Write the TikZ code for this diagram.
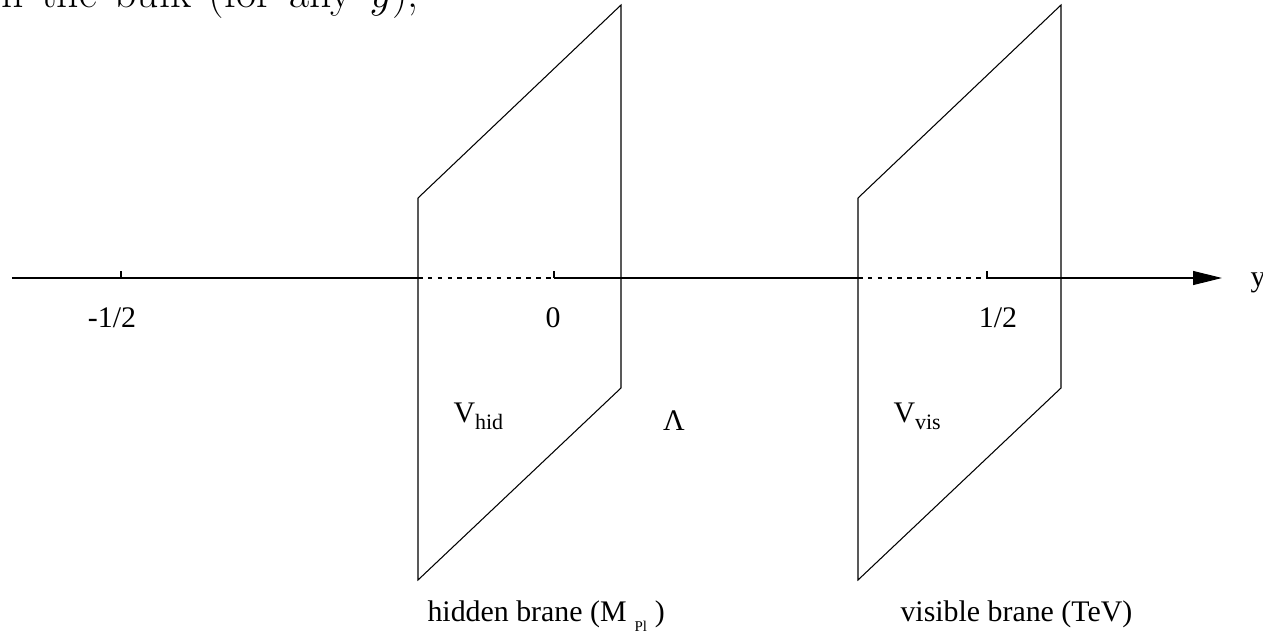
\documentclass[tikz,border=0pt]{standalone}
\usepackage{fontspec}
\newfontfamily\tnr{Liberation Serif}
\usetikzlibrary{arrows.meta}
\newcommand{\bsub}[2]{\raisebox{#1}{\fontsize{12.5}{14}\selectfont #2}}

\begin{document}
\begin{tikzpicture}[line width=0.6pt,
    lbl/.style={inner sep=0pt,anchor=base,font=\tnr\fontsize{17}{20}\selectfont},
    behind/.style={dash pattern=on 2.6pt off 3pt}]
    \useasboundingbox (-11.08,-7.10) rectangle (14.18,5.56);
    % axis
    \coordinate (Y0) at (-10.84,0);
    \coordinate (M) at (-8.66,0);
    \coordinate (H1) at (-2.72,0);
    \coordinate (O) at (0,0);
    \coordinate (V1) at (6.08,0);
    \coordinate (P) at (8.66,0);
    \coordinate (Y1) at (13.36,0);
    % hidden brane
    \coordinate (A1) at (-2.72,-6.04);
    \coordinate (A2) at (-2.72,1.6);
    \coordinate (A3) at (1.34,5.46);
    \coordinate (A4) at (1.34,-2.2);
    % visible brane
    \coordinate (B1) at (6.08,-6.04);
    \coordinate (B2) at (6.08,1.6);
    \coordinate (B3) at (10.14,5.46);
    \coordinate (B4) at (10.14,-2.2);
    %
    \draw (Y0) -- (H1);
    \draw[behind] (H1) -- (O);
    \draw (O) -- (V1);
    \draw[behind] (V1) -- (P);
    \draw[-{Triangle[length=0.58cm,width=0.28cm]}] (P) -- (Y1);
    \draw (M) -- ++(0,0.14);
    \draw (O) -- ++(0,0.14);
    \draw (P) -- ++(0,0.14);
    %
    \draw (A1) -- (A2) -- (A3) -- (A4) -- cycle;
    \draw (B1) -- (B2) -- (B3) -- (B4) -- cycle;
    %
    \node[lbl] (mhalf) at (-8.84,-0.98) {-1/2};
    \node[lbl] (zero) at (-0.02,-0.98) {0};
    \node[lbl] (phalf) at (8.88,-0.98) {1/2};
    \node[lbl,anchor=base west] (ylab) at (13.92,-0.17) {y};
    \node[lbl,anchor=base west] (vhid) at (-2.02,-2.88) {V\bsub{-4.5pt}{hid}};
    \node[lbl] (lam) at (2.4,-3.04) {Λ};
    \node[lbl,anchor=base west] (vvis) at (6.78,-2.88) {V\bsub{-4.5pt}{vis}};
    \node[lbl,anchor=base west] (hname) at (-2.54,-6.86)
        {hidden brane (M\hspace{4.5pt}\raisebox{-5.7pt}{\fontsize{8.5}{10}\selectfont Pl}\hspace{4.5pt})};
    \node[lbl,anchor=base west] (vname) at (6.92,-6.86) {visible brane (TeV)};
    %
    \node[inner sep=0pt,anchor=base west,font=\Huge] (bulk) at (-11.06,5.42)
        {\spaceskip=10pt n the bulk (for any $y$),};
\end{tikzpicture}
\end{document}
